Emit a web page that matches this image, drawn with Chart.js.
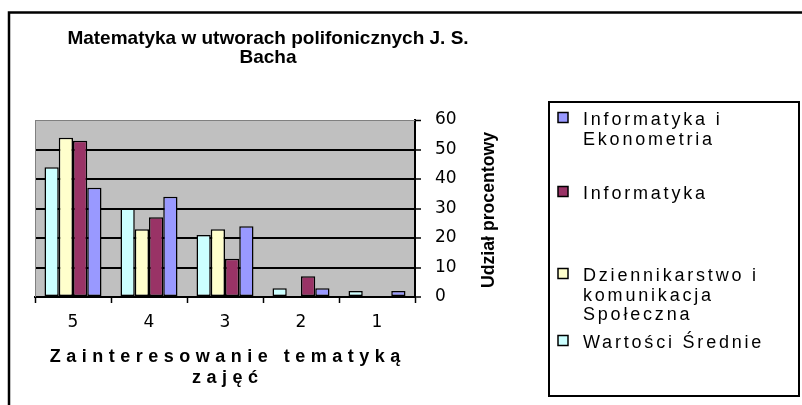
<!DOCTYPE html>
<html>
<head>
<meta charset="utf-8">
<script src="https://cdn.jsdelivr.net/npm/chart.js@4/dist/chart.umd.min.js"></script>
<style>
html,body{margin:0;padding:0;background:#fff;}
#c{display:block;}
</style>
</head>
<body>
<canvas id="c" width="802" height="405"></canvas>
<script>
// ---- data ----
const categories = ['5', '4', '3', '2', '1'];
const wartosciSrednie = [44, 30, 21, 3, 2];
const dziennikarstwo = [54, 23, 23, 0, 0];
const informatyka = [53, 27, 13, 7, 0];
const informatykaEkonometria = [37, 34, 24, 3, 2];
const seriesNames = ['Wartości Średnie', 'Dziennikarstwo i komunikacja Społeczna', 'Informatyka', 'Informatyka i Ekonometria'];
const legendLines = [['Wartości Średnie'], ['Dziennikarstwo i', 'komunikacja', 'Społeczna'], ['Informatyka'], ['Informatyka i', 'Ekonometria']];
const yTicks = [0, 10, 20, 30, 40, 50, 60];
const titleLines = ['Matematyka w utworach polifonicznych J. S.', 'Bacha'];
const xTitleLines = ['Zainteresowanie tematyką', 'zajęć'];
const yTitle = 'Udział procentowy';

// ---- styles ----
const seriesValues = [wartosciSrednie, dziennikarstwo, informatyka, informatykaEkonometria];
const seriesColors = ['#CCFFFF', '#FFFFCC', '#993366', '#9999FF'];
const FONT = '"Liberation Sans", Arial, sans-serif';

const decor = {
  id: 'decor',
  beforeDraw(chart) {
    const {ctx, chartArea: a} = chart;
    ctx.save();
    ctx.fillStyle = '#fff';
    ctx.fillRect(0, 0, chart.width, chart.height);
    ctx.fillStyle = '#C0C0C0';
    ctx.fillRect(a.left, a.top, a.right - a.left, a.bottom - a.top);
    ctx.restore();
  },
  beforeDatasetsDraw(chart) {
    const {ctx, chartArea: a} = chart;
    ctx.save();
    ctx.strokeStyle = '#808080';
    ctx.lineWidth = 1;
    ctx.beginPath();
    ctx.moveTo(a.left + 0.5, a.bottom);
    ctx.lineTo(a.left + 0.5, a.top + 0.5);
    ctx.lineTo(a.right, a.top + 0.5);
    ctx.stroke();
    ctx.restore();
  },
  afterDraw(chart) {
    const {ctx, chartArea: a} = chart;
    ctx.save();
    // outer frame
    ctx.strokeStyle = '#000';
    ctx.lineWidth = 2.5;
    ctx.beginPath();
    ctx.moveTo(9, 410);
    ctx.lineTo(9, 12.5);
    ctx.lineTo(810, 12.5);
    ctx.stroke();

    // title
    ctx.fillStyle = '#000';
    ctx.textAlign = 'center';
    ctx.textBaseline = 'alphabetic';
    ctx.font = 'bold 19px ' + FONT;
    titleLines.forEach((t, i) => ctx.fillText(t, 268, 44 + i * 19));

    // x axis title
    ctx.font = 'bold 18px ' + FONT;
    ctx.letterSpacing = '5.5px';
    const cx = (a.left + a.right) / 2;
    xTitleLines.forEach((t, i) => ctx.fillText(t, cx + 2.75, 362 + i * 21));
    ctx.letterSpacing = '0px';

    // y axis title (rotated)
    ctx.save();
    ctx.translate(494, 210);
    ctx.rotate(-Math.PI / 2);
    ctx.font = 'bold 18px ' + FONT;
    const w = ctx.measureText(yTitle).width;
    ctx.scale(156 / w, 1);
    ctx.fillText(yTitle, 0, 0);
    ctx.restore();

    // legend box
    ctx.strokeStyle = '#000';
    ctx.lineWidth = 2;
    ctx.strokeRect(549, 102, 250, 294);
    const rowBase = [125, 199, 281, 348];
    ctx.textAlign = 'left';
    ctx.font = '18px ' + FONT;
    ctx.letterSpacing = '2.8px';
    for (let k = 0; k < 4; k++) {
      const si = 3 - k;
      const b = rowBase[k];
      ctx.fillStyle = seriesColors[si];
      ctx.fillRect(558, b - 12.5, 10, 10);
      ctx.lineWidth = 1.5;
      ctx.strokeStyle = '#000';
      ctx.strokeRect(558, b - 12.5, 10, 10);
      ctx.fillStyle = '#000';
      legendLines[si].forEach((t, j) => ctx.fillText(t, 583, b + j * 19.5));
    }
    ctx.letterSpacing = '0px';
    ctx.restore();
  }
};

new Chart(document.getElementById('c'), {
  type: 'bar',
  data: {
    labels: categories,
    datasets: seriesNames.map((name, i) => ({
      label: name,
      data: seriesValues[i],
      backgroundColor: seriesColors[i],
      borderColor: '#000',
      borderWidth: 1.5,
      borderSkipped: false,
      categoryPercentage: 0.75,
      barPercentage: 1.0
    }))
  },
  options: {
    responsive: false,
    animation: false,
    devicePixelRatio: 1,
    layout: {padding: {left: 35, top: 120, right: 327, bottom: 78}},
    plugins: {
      legend: {display: false},
      title: {display: false},
      tooltip: {enabled: false}
    },
    scales: {
      x: {
        position: 'bottom',
        offset: true,
        grid: {display: true, drawOnChartArea: false, drawTicks: true, tickLength: 6, tickColor: '#000', tickWidth: 1.5, offset: true},
        border: {display: true, color: '#000', width: 2},
        ticks: {color: '#000', font: {family: 'DejaVu Sans', size: 17}, padding: 9, maxRotation: 0, autoSkip: false},
        afterFit(s) { s.height = 30; }
      },
      y: {
        position: 'right',
        min: 0,
        max: 60,
        afterBuildTicks(s) { s.ticks = yTicks.map(v => ({value: v})); },
        ticks: {color: '#000', font: {family: 'DejaVu Sans', size: 17}, padding: 14, crossAlign: 'near'},
        grid: {
          color: c => (c.tick && c.tick.value === 60) ? '#808080' : '#000',
          lineWidth: c => (c.tick && c.tick.value === 60) ? 1 : 2,
          tickColor: '#000', tickLength: 6, tickWidth: 1.5
        },
        border: {display: true, color: '#000', width: 2},
        afterFit(s) { s.width = 60; }
      }
    }
  },
  plugins: [decor]
});
</script>
</body>
</html>
